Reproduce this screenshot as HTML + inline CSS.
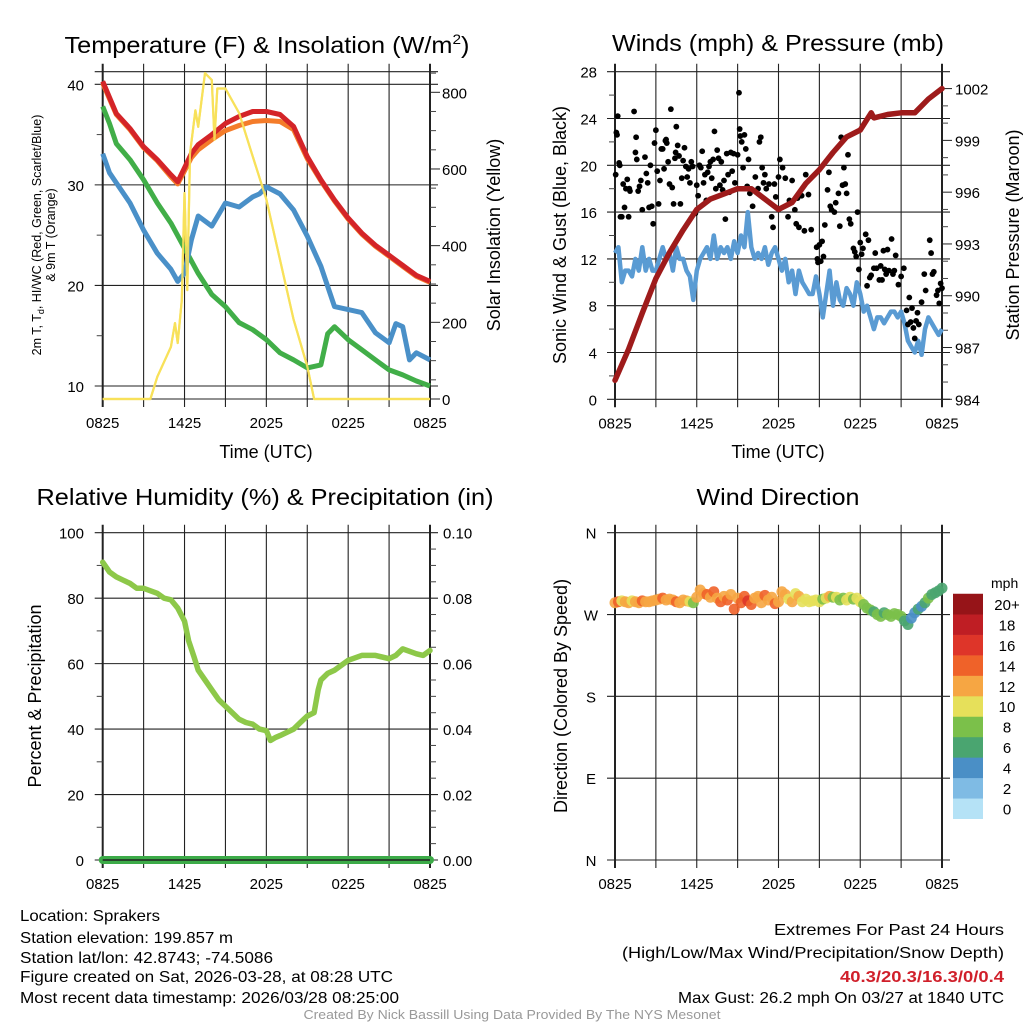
<!DOCTYPE html>
<html><head><meta charset="utf-8"><style>
body{margin:0;background:#fff}
svg{display:block;font-family:"Liberation Sans",sans-serif}
</style></head><body>
<svg id="root" width="1024" height="1024" viewBox="0 0 1024 1024" xmlns="http://www.w3.org/2000/svg">
<rect width="1024" height="1024" fill="#fff"/>
<g id="g1"></g>
<g id="g2"></g>
<g id="g3"></g>
<g id="g4"></g>
<text x="267" y="53" font-size="23" text-anchor="middle" textLength="405" lengthAdjust="spacingAndGlyphs">Temperature (F) &amp; Insolation (W/m<tspan dy="-9" font-size="14">2</tspan><tspan dy="9">)</tspan></text>
<text x="778" y="51" font-size="23" text-anchor="middle" textLength="332" lengthAdjust="spacingAndGlyphs">Winds (mph) &amp; Pressure (mb)</text>
<text x="265" y="505" font-size="23" text-anchor="middle" textLength="457" lengthAdjust="spacingAndGlyphs">Relative Humidity (%) &amp; Precipitation (in)</text>
<text x="778" y="505" font-size="23" text-anchor="middle" textLength="163" lengthAdjust="spacingAndGlyphs">Wind Direction</text>
<g font-size="16">
<text x="20" y="921" textLength="140" lengthAdjust="spacingAndGlyphs">Location: Sprakers</text>
<text x="20" y="943" textLength="213" lengthAdjust="spacingAndGlyphs">Station elevation: 199.857 m</text>
<text x="20" y="963" textLength="253" lengthAdjust="spacingAndGlyphs">Station lat/lon: 42.8743; -74.5086</text>
<text x="20" y="982" textLength="373" lengthAdjust="spacingAndGlyphs">Figure created on Sat, 2026-03-28, at 08:28 UTC</text>
<text x="20" y="1003" textLength="379" lengthAdjust="spacingAndGlyphs">Most recent data timestamp: 2026/03/28 08:25:00</text>
</g>
<g font-size="16" text-anchor="end">
<text x="1004" y="935" textLength="230" lengthAdjust="spacingAndGlyphs">Extremes For Past 24 Hours</text>
<text x="1004" y="958" textLength="382" lengthAdjust="spacingAndGlyphs">(High/Low/Max Wind/Precipitation/Snow Depth)</text>
<text x="1004" y="982" fill="#d01f2a" font-weight="bold" textLength="164" lengthAdjust="spacingAndGlyphs">40.3/20.3/16.3/0/0.4</text>
<text x="1004" y="1003" textLength="326" lengthAdjust="spacingAndGlyphs">Max Gust: 26.2 mph On 03/27 at 1840 UTC</text>
</g>
<text x="512" y="1019" font-size="13" fill="#999" text-anchor="middle" textLength="417" lengthAdjust="spacingAndGlyphs">Created By Nick Bassill Using Data Provided By The NYS Mesonet</text>
</svg>
<script>
// ---------- data ----------
const xTickLabels = ["0825","1425","2025","0225","0825"];
const tempT = [0,1,2,3,4,5,5.5,6,6.5,7,8,9,10,11,12,13,14,15,16,17,18,19,20,21,22,23,24];
const tempRed = [40.3,37.1,35.6,33.8,32.5,31,30.3,31.7,33.1,34,35,36.1,36.8,37.3,37.3,37,35.8,32.8,30.5,28.5,26.7,25.2,24,23,22,21,20.4];
const tempOrange = [40.1,37,35.5,33.7,32.4,30.8,30.1,31.4,32.7,33.5,34.5,35.4,35.9,36.3,36.4,36.3,35.5,32.6,30.4,28.4,26.6,25.1,23.9,22.9,21.9,20.9,20.3];
const dewT = [0,0.5,1,2,3,4,5,6,7,8,9,10,11,12,13,14,15,16,16.5,17,18,19,20,21,22,23,24];
const dewGreen = [37.8,36.1,34.1,32.5,30.5,28.2,26.2,23.7,21.2,19.1,17.9,16.3,15.6,14.6,13.3,12.6,11.8,12.1,15.2,15.9,14.6,13.6,12.6,11.6,11.1,10.5,10];
const wcT = [0,0.5,1,2,3,4,5,5.5,6,6.5,7,8,9,10,11,11.5,12,13,14,15,16,17,18,19,20,21,21.5,22,22.5,23,24];
const wcBlue = [33.1,31.2,30.2,28.2,25.5,23.2,21.6,20.4,21.2,24.5,26.9,25.9,28.2,27.8,28.8,29.1,29.8,29.1,27.5,24.9,21.9,17.9,17.6,17.3,15.3,14.3,16.2,15.9,12.6,13.3,12.6];
const solarT = [0,3,3.5,4,5,5.3,5.5,5.8,6,6.2,6.4,6.8,7,7.5,8,8.2,8.4,9,10,11,12,13,14,15,15.5,24];
const solarW = [0,0,0,58,136,198,146,258,537,284,640,753,710,850,832,676,810,810,746,633,520,363,207,85,0,0];
const tempTicks = [10,20,30,40];
const solarTicks = [0,200,400,600,800];

const presT = [0,1,2,3,4,5,6,7,8,9,10,11,12,13,14,15,16,17,18,18.8,19,20,21,22,23,24];
const presMb = [985.1,986.9,989,991,992.5,993.8,995,995.6,995.9,996.2,996.2,995.6,995,995.4,996.5,997.3,998.3,999.2,999.6,1000.6,1000.3,1000.5,1000.6,1000.6,1001.4,1002];
const windSpeed = [12.5,13,10,11,11,10.5,12,11,13,11,12,11,11,
12,13,12,12.5,11,13,12,12,11,10.5,8.5,11,
12,12.5,13,12,14,12,13,12.5,13,12,13.5,12.5,
14,13,16,13,12,12.5,12,13,11.5,12.5,13,12,
11,12,10,11,9,11,10,9.5,9,9,10.5,9,
7,9,11,8,10,8.5,8,9.5,9,8,10,9,
7.5,8,7,6,7,7,6.5,7,7.5,7.5,7,7.5,
6.5,5,4.5,4,5,3.8,6,7,6.5,6,5.5,6];
const windDir = [283,284,285,284,283,285,284,283,285,284,284,285,286,
287,288,286,287,286,284,283,286,285,284,283,289,
297,293,292,289,295,288,284,290,286,292,276,288,
283,290,285,281,288,290,283,291,286,289,282,284,
295,292,287,284,293,290,284,287,284,285,286,284,
287,288,290,289,289,286,288,286,289,287,288,284,
281,277,275,273,270,268,272,270,268,271,270,268,
263,259,266,272,276,279,283,288,292,294,296,299];
const gustT = [0.05,0.1,0.15,0.2,0.3,0.35,0.4,0.5,0.6,0.7,0.8,0.9,1.0,1.05,1.1,1.4,1.5,1.55,1.6,1.7,1.8,1.9,2.0,2.2,2.3,2.4,2.5,2.6,2.7,2.8,2.9,3.0,3.1,3.2,3.3,3.4,3.5,3.6,3.7,3.75,3.8,3.9,4.0,4.1,4.2,4.3,4.4,4.45,4.5,4.6,4.7,4.8,4.9,5.0,5.1,5.2,5.3,5.4,5.5,5.6,5.7,5.9,6.0,6.1,6.2,6.3,6.4,6.5,6.6,6.7,6.8,6.9,7.0,7.1,7.2,7.3,7.4,7.5,7.6,7.7,7.8,7.9,8.0,8.1,8.2,8.3,8.4,8.5,8.6,8.7,8.8,9.0,9.1,9.15,9.2,9.3,9.4,9.5,9.6,9.7,9.8,9.9,10.1,10.3,10.5,10.6,10.7,10.8,10.9,11.0,11.1,11.3,11.5,11.6,11.7,11.8,12.0,12.1,12.3,12.5,12.7,12.8,13.0,13.2,13.3,13.4,13.5,13.7,13.9,14.0,14.2,14.4,14.8,14.85,14.9,15.0,15.1,15.2,15.3,15.4,15.6,15.7,15.8,15.9,16.1,16.2,16.4,16.5,16.6,16.7,16.8,16.9,17.0,17.1,17.2,17.3,17.5,17.6,17.7,17.8,17.9,18.0,18.1,18.2,18.4,18.5,18.6,18.7,18.8,19.0,19.1,19.2,19.4,19.5,19.6,19.7,19.8,19.9,20.0,20.1,20.3,20.4,20.5,20.6,20.8,21.0,21.2,21.4,21.5,21.6,21.7,21.8,21.9,22.0,22.1,22.2,22.3,22.5,22.7,22.8,23.1,23.2,23.3,23.4,23.6,23.7,23.8,23.9,24];
const gustV = [19.2,22.8,22.6,24.2,20.2,20,15.6,15.6,18.4,16.4,18,18.8,15.6,18,17.8,24.6,21.1,22.4,20.5,17.8,18.2,18.7,16.2,20.7,19.3,18.5,16.4,20,16.5,15,21.9,23,19.5,16.7,18.7,21.4,21.4,19.7,22.1,22.2,21.9,20.3,18.4,24.8,18.1,16.7,20.6,21.1,23.3,21.7,20.8,16.7,18.9,20.4,21.5,19.9,19,19.7,18.5,20.3,19.9,15.9,18.3,17.4,20,19.8,21.2,18.5,19.2,17,19.4,19.9,20.3,18.9,20.5,22.9,18,21.3,20.6,18.3,20.3,17.9,18.7,15.4,21,19.2,17.7,21.1,19.5,21,18.5,20.9,26.2,23.1,22.5,22,19.8,22.6,21.4,18.2,20.5,17.6,16.5,19,18,22,22.4,19.8,18.5,19.2,18,18.4,15.6,14.7,18.4,17.3,19,20.5,19.8,18.9,15.6,17,18.7,16.2,15,17.2,14.7,17.4,14.4,19.2,17.5,14.5,13,12,11.7,13.2,11.8,13.5,12.2,14.9,17.9,19.4,16.5,16.2,16,16.8,17.6,14.8,22.4,18.3,19.8,18.4,17.6,20.9,15.4,15,12.9,12.6,12.2,16,11.1,13.4,12.4,12.9,14.1,9.7,13.6,10.4,10.6,11.2,12.5,11.2,10.2,11.4,10.2,12.7,11.1,10.7,12.8,11,13.7,10.7,11,12.3,9.8,10.5,11.2,7.6,6.4,8.7,6.6,7.8,6.1,5.2,6.7,7.4,6.4,8.3,10.7,9.3,13.6,12.5,10.7,10.9,8.9,9.3,8.2,9.9,9.5];
const windTicks = [0,4,8,12,16,20,24,28];
const presTicks = [984,987,990,993,996,999,1002];

const rhT = [0,0.5,1,1.5,2,2.5,3,4,4.5,5,5.5,6,6.3,6.7,7,7.5,8,8.5,9,9.5,10,10.5,11,11.5,12,12.3,12.7,13,13.5,14,14.5,15,15.5,15.8,16,16.5,17,17.5,18,19,20,21,21.5,22,23,23.5,24];
const rhV = [91,88,86.5,85.5,84.5,83,83,81.5,80,79.5,77,73,67,62,58,55,52,49,47,45,43,42,41.5,40,39.5,36.5,37.5,38,39,40,42,44,45,52,55,57,58,59.5,61,62.5,62.5,61.5,62.5,64.5,63,62.5,64];
const precipT = [0,24];
const precipV = [0,0];
const rhTicks = [0,20,40,60,80,100];
const precipTicks = ["0.00","0.02","0.04","0.06","0.08","0.10"];

const dirTickLabels = ["N","E","S","W","N"];
const speedBins = ["0","2","4","6","8","10","12","14","16","18","20+"];
const binColors = ["#b5e2f6","#7fbbe4","#4a8fc6","#4aa570","#7bc04a","#e6e05a","#f6a643","#ef6229","#de3529","#bf1e24","#961418"];

// ---------- helpers ----------
const NS="http://www.w3.org/2000/svg";
function mk(parent,tag,attrs){const e=document.createElementNS(NS,tag);for(const k in attrs)e.setAttribute(k,attrs[k]);parent.appendChild(e);return e;}
function txt(parent,x,y,s,size,anchor,extra){const e=mk(parent,"text",Object.assign({x:x,y:y,"font-size":size,"text-anchor":anchor||"start"},extra||{}));e.textContent=s;return e;}
const X0=102.7,X1=430, X0b=615, X1b=942;
function xs(x0,x1){return t=>x0+(x1-x0)*t/24;}
function ys(v0,v1,y0,y1){return v=>y0+(v-v0)*(y1-y0)/(v1-v0);}
function pathD(ts,vs,fx,fy){return ts.map((t,i)=>(i?"L":"M")+fx(t).toFixed(1)+","+fy(vs[i]).toFixed(1)).join("");}

function frame(g,x0,x1,yt,yb,hy,fx){
  for(let h=0;h<=24;h+=3){
    const x=fx(h);
    const l=mk(g,"line",{x1:x,x2:x,y1:yt-8,y2:yb+8,stroke:"#222","stroke-width":(h===0||h===24)?2:1.1});
    
    
  }
  hy.forEach(y=>{
    const l=mk(g,"line",{x1:x0-8,x2:x1+8,y1:y,y2:y,stroke:"#222","stroke-width":1.1});
    
    
  });
  xTickLabels.forEach((s,i)=>{
    const t=txt(g,fx(i*6),yb+29,s,15,"middle");
    
    
  });
}
function minor(g,x,ys_,dir){ys_.forEach(y=>{const l=mk(g,"line",{x1:x,x2:x+dir*6,y1:y,y2:y,stroke:"#444","stroke-width":1});
  
  });}

// ---------- panel 1 ----------
(function(){
  const g=document.getElementById("g1");
  const fx=xs(X0,X1), fy=ys(10,40,386,84.3), fs=ys(0,800,399,92.3);
  frame(g,X0,X1,71.7,399,[71.7].concat(tempTicks.map(fy)),fx);
  mk(g,"line",{x1:X0,x2:X1,y1:399,y2:399,stroke:"#222","stroke-width":1});
  minor(g,X0,[15,25,35].map(fy),-1);
  const mt=[];for(let v=50;v<=850;v+=50)if(v%200)mt.push(fs(v));
  minor(g,X1,mt,1);
  solarTicks.forEach(v=>{const l=mk(g,"line",{x1:X1,x2:X1+10,y1:fs(v),y2:fs(v),stroke:"#222"});
    
    });
  tempTicks.forEach(v=>{const t=txt(g,84,fy(v)+6,String(v),15,"end");
    
    });
  solarTicks.forEach(v=>{const t=txt(g,442,fs(v)+6,String(v),15,"start");
    
    });
  const s1=mk(g,"path",{d:pathD(solarT,solarW,fx,fs),fill:"none",stroke:"#f7e15a","stroke-width":2.2,"stroke-linejoin":"round"});
  
  
  const a=mk(g,"path",{d:pathD(dewT,dewGreen,fx,fy),fill:"none",stroke:"#41ae48","stroke-width":5,"stroke-linejoin":"round"});
  
  
  const b=mk(g,"path",{d:pathD(wcT,wcBlue,fx,fy),fill:"none",stroke:"#4a90c8","stroke-width":5,"stroke-linejoin":"round"});
  
  
  const c=mk(g,"path",{d:pathD(tempT,tempOrange,fx,fy),fill:"none",stroke:"#f47c2a","stroke-width":5,"stroke-linejoin":"round"});
  
  
  const d=mk(g,"path",{d:pathD(tempT,tempRed,fx,fy),fill:"none",stroke:"#d42428","stroke-width":5,"stroke-linejoin":"round"});
  
  
  const s2=mk(g,"path",{d:pathD(solarT,solarW,fx,fs),fill:"none",stroke:"#f7e15a","stroke-width":2.2,"stroke-linejoin":"round","stroke-opacity":0.9});
  
  
  const xt=txt(g,266,458,"Time (UTC)",18,"middle");
  
  
  const l1=txt(g,0,0,"2m T, T",12.5,"middle",{transform:"translate(41,235) rotate(-90)"});
  const sub=document.createElementNS(NS,"tspan");sub.setAttribute("font-size","9");sub.setAttribute("dy","3");sub.textContent="d";l1.appendChild(sub);
  const rest=document.createElementNS(NS,"tspan");rest.setAttribute("dy","-3");rest.textContent=", HI/WC (Red, Green, Scarlet/Blue)";l1.appendChild(rest);
  
  
  const l2=txt(g,0,0,"& 9m T (Orange)",12.5,"middle",{transform:"translate(55,235) rotate(-90)"});
  
  
  const r=txt(g,0,0,"Solar Insolation (Yellow)",18,"middle",{transform:"translate(500,235) rotate(-90)"});
  
  
})();

// ---------- panel 2 ----------
(function(){
  const g=document.getElementById("g2");
  const fx=xs(X0b,X1b), fy=ys(0,28,399.3,71.7), fp=ys(984,1002,399.3,88.6);
  frame(g,X0b,X1b,71.7,399.3,windTicks.map(fy),fx);
  minor(g,X0b,[2,6,10,14,18,22,26].map(fy),-1);
  const mp=[];for(let v=985;v<1003;v++)if((v-984)%3)mp.push(fp(v));
  minor(g,X1b,mp,1);
  presTicks.forEach(v=>{const l=mk(g,"line",{x1:X1b,x2:X1b+10,y1:fp(v),y2:fp(v),stroke:"#222"});
    
    });
  windTicks.forEach(v=>{const t=txt(g,597,fy(v)+6,String(v),15,"end");
    
    });
  presTicks.forEach(v=>{const t=txt(g,955,fp(v)+6,String(v),15,"start");
    
    });
  const wT=windSpeed.map((v,i)=>i*0.25);
  const w=mk(g,"path",{d:pathD(wT,windSpeed,fx,fy),fill:"none",stroke:"#5a9bd3","stroke-width":4.5,"stroke-linejoin":"round"});
  
  
  gustT.forEach((t,i)=>{
    const c=mk(g,"circle",{cx:fx(t),cy:fy(gustV[i]),r:2.9,fill:"#000"});
    
    
  });
  const p=mk(g,"path",{d:pathD(presT,presMb,fx,fp),fill:"none",stroke:"#9e1b1b","stroke-width":5.5,"stroke-linejoin":"round","stroke-linecap":"round"});
  
  
  const xt=txt(g,778,458,"Time (UTC)",18,"middle");
  
  
  const l=txt(g,0,0,"Sonic Wind & Gust (Blue, Black)",18,"middle",{transform:"translate(566,235) rotate(-90)"});
  
  
  const r=txt(g,0,0,"Station Pressure (Maroon)",18,"middle",{transform:"translate(1019,235) rotate(-90)"});
  
  
})();

// ---------- panel 3 ----------
(function(){
  const g=document.getElementById("g3");
  const fx=xs(X0,X1), fy=ys(0,100,860,532.7);
  frame(g,X0,X1,532.7,860,rhTicks.map(fy),fx);
  minor(g,X0,[10,30,50,70,90].map(fy),-1);
  const mr=[];for(let v=5;v<100;v+=5)if(v%20)mr.push(fy(v));
  minor(g,X1,mr,1);
  rhTicks.forEach(v=>{const t=txt(g,84,fy(v)+6,String(v),15,"end");
    
    });
  precipTicks.forEach((s,i)=>{const t=txt(g,443,fy(i*20)+6,s,15,"start");
    
    });
  const r=mk(g,"path",{d:pathD(rhT,rhV,fx,fy),fill:"none",stroke:"#8dc849","stroke-width":5.5,"stroke-linejoin":"round","stroke-linecap":"round"});
  
  
  const p=mk(g,"path",{d:pathD(precipT,precipV.map(v=>v*1000),fx,fy),fill:"none",stroke:"#3cab48","stroke-width":8,"stroke-linecap":"round"});
  
  
  mk(g,"line",{x1:X0,x2:X1,y1:860,y2:860,stroke:"#222","stroke-width":1.5});
  const l=txt(g,0,0,"Percent & Precipitation",18,"middle",{transform:"translate(41,696) rotate(-90)"});
  
  
})();

// ---------- panel 4 ----------
(function(){
  const g=document.getElementById("g4");
  const fx=xs(X0b,X1b), fy=ys(0,360,860,532.7);
  frame(g,X0b,X1b,532.7,860,[0,90,180,270,360].map(fy),fx);
  dirTickLabels.forEach((s,i)=>{const t=txt(g,591,fy(i*90)+6,s,15,"middle");
    
    });
  windDir.forEach((d,i)=>{
    const b=Math.min(10,Math.max(0,Math.round(windSpeed[i]/2)));
    const c=mk(g,"circle",{cx:fx(i*0.25),cy:fy(d),r:5.5,fill:binColors[b],"fill-opacity":0.9});
    
    
  });
  const l=txt(g,0,0,"Direction (Colored By Speed)",18,"middle",{transform:"translate(567,696) rotate(-90)"});
  
  
  const leg=mk(g,"g",{});
  
  
  const h=20.45;
  speedBins.forEach((s,i)=>{
    const y=818.7-(i+1)*h;
    const r=mk(leg,"rect",{x:953,y:y,width:30,height:h+0.3,fill:binColors[i]});
    
    
    const t=txt(leg,1007,y+h/2+6,s,15,"middle");
    
    
  });
  const u=txt(leg,991,588,"mph",14,"start");
  
  
})();
</script>
</body></html>
